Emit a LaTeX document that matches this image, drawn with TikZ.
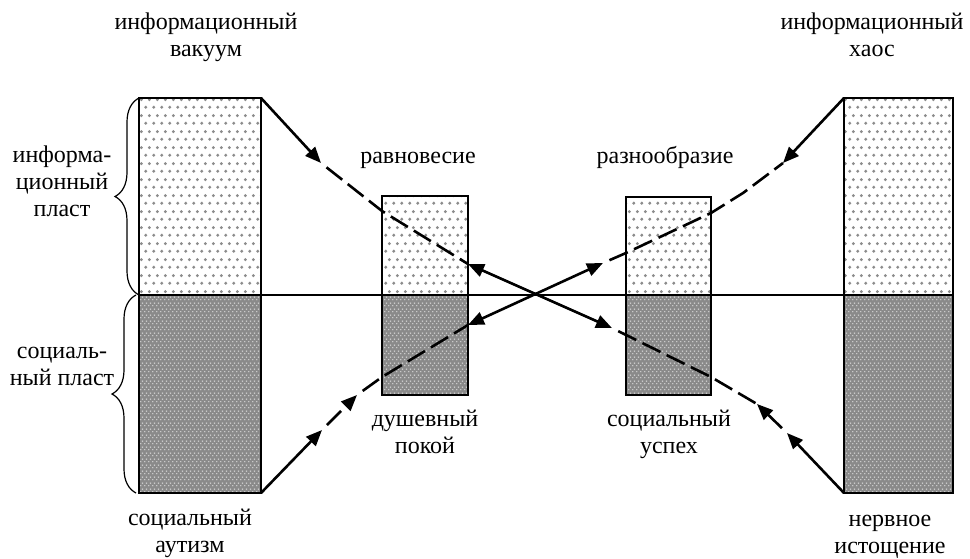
\documentclass[tikz,border=0pt]{standalone}
\usepackage{fontspec}
\setmainfont{Liberation Serif}
\usetikzlibrary{arrows.meta,patterns,decorations.pathreplacing}
\pgfdeclarepatternformonly{infodots}{\pgfqpoint{0pt}{0pt}}{\pgfqpoint{8pt}{16pt}}{\pgfqpoint{8pt}{16pt}}{%
  \pgfpathcircle{\pgfqpoint{2pt}{4pt}}{1.8pt}%
  \pgfpathcircle{\pgfqpoint{6pt}{12pt}}{1.8pt}%
  \pgfusepath{fill}}
\pgfdeclarepatternformonly{socdots}{\pgfqpoint{0pt}{0pt}}{\pgfqpoint{4pt}{6pt}}{\pgfqpoint{4pt}{6pt}}{%
  \pgfpathrectangle{\pgfqpoint{0.2pt}{1pt}}{\pgfqpoint{1.6pt}{1pt}}%
  \pgfpathrectangle{\pgfqpoint{2.2pt}{4pt}}{\pgfqpoint{1.6pt}{1pt}}%
  \pgfusepath{fill}}
\tikzset{
  barbox/.style={draw=black, line width=2pt, inner sep=0pt, outer sep=0pt, anchor=north west},
  upfill/.style={pattern=infodots, pattern color=black!45},
  lowfill/.style={preaction={fill=black!46}, pattern=socdots, pattern color=white!92!black},
  flow/.style={line width=2.6pt},
  flowdash/.style={flow, dash pattern=on 20pt off 7pt},
  arrowend/.style={-{Triangle[length=16pt,width=13pt]}},
  arrowboth/.style={{Triangle[length=16pt,width=13pt]}-{Triangle[length=16pt,width=13pt]}},
  lbl/.style={font=\fontsize{24}{27}\selectfont, align=center, inner sep=0pt, anchor=base},
  bracestyle/.style={decorate, decoration={brace, amplitude=24pt}, line width=1.2pt},
  midline/.style={line width=1.6pt}
}
\begin{document}
\begin{tikzpicture}[x=1pt,y=-1pt]
\useasboundingbox (0,0) rectangle (970,558);
% bars
\node[barbox, upfill, minimum width=122pt, minimum height=197pt] (LU) at (139,98) {};
\node[barbox, lowfill, minimum width=122pt, minimum height=198pt] (LL) at (139,295) {};
\node[barbox, upfill, minimum width=86pt, minimum height=99pt] (MU) at (382,196) {};
\node[barbox, lowfill, minimum width=86pt, minimum height=100pt] (ML) at (382,295) {};
\node[barbox, upfill, minimum width=85pt, minimum height=98pt] (NU) at (626,197) {};
\node[barbox, lowfill, minimum width=85pt, minimum height=100pt] (NL) at (626,295) {};
\node[barbox, upfill, minimum width=109pt, minimum height=197pt] (RU) at (844,98) {};
\node[barbox, lowfill, minimum width=109pt, minimum height=198pt] (RL) at (844,295) {};
% middle horizontal line
\draw[midline] (LU.south west) -- (RU.south east);
% braces
\draw[bracestyle] (LU.south west) -- (LU.north west);
\draw[bracestyle] ([xshift=-3pt]LL.south west) -- ([xshift=-3pt]LL.north west);
% waypoints
\coordinate (a1) at (321,163);
\coordinate (a2) at (382,211);
\coordinate (a3) at (468,264);
\coordinate (a4) at (612,328);
\coordinate (a5) at (711,377);
\coordinate (a6) at (757,404);
\coordinate (a7) at (787,433);
\coordinate (b1) at (322,430);
\coordinate (b2) at (357,395);
\coordinate (b3) at (382,377);
\coordinate (b4) at (468,325);
\coordinate (b5) at (603,263);
\coordinate (b6) at (626,253);
\coordinate (b7) at (711,213);
\coordinate (b8) at (743,193);
\coordinate (b9) at (783,163);
% line A
\draw[flow, arrowend] (LU.north east) -- (a1);
\draw[flowdash, dash phase=20pt] (a1) -- (a2) -- (a3);
\draw[flow, arrowboth] (a3) -- (a4);
\draw[flowdash, dash phase=20pt] (a4) -- (a5) -- (a6);
\draw[flowdash, dash phase=20pt, arrowend] (a7) -- (a6);
\draw[flow, arrowend] (RL.south west) -- (a7);
% line B
\draw[flow, arrowend] (LL.south east) -- (b1);
\draw[flowdash, dash phase=20pt, arrowend] (b1) -- (b2);
\draw[flowdash, dash phase=20pt] (b2) -- (b3) -- (b4);
\draw[flow, arrowboth] (b4) -- (b5);
\draw[flowdash, dash phase=20pt] (b5) -- (b6) -- (b7) -- (b8) -- (b9);
\draw[flow, arrowend] (RU.north west) -- (b9);
% labels (anchor = baseline of last line)
\node[lbl] (t1) at (206,56) {информационный\\вакуум};
\node[lbl] (t2) at (872,56) {информационный\\хаос};
\node[lbl] (t3) at (418,163) {равновесие};
\node[lbl] (t4) at (665,163) {разнообразие};
\node[lbl] (t5) at (62,216) {информа-\\ционный\\пласт};
\node[lbl] (t6) at (62,385) {социаль-\\ный пласт};
\node[lbl] (t7) at (425,453) {душевный\\покой};
\node[lbl] (t8) at (669,453) {социальный\\успех};
\node[lbl] (t9) at (190,552) {социальный\\аутизм};
\node[lbl] (t10) at (890,553) {нервное\\истощение};
\end{tikzpicture}
\end{document}
